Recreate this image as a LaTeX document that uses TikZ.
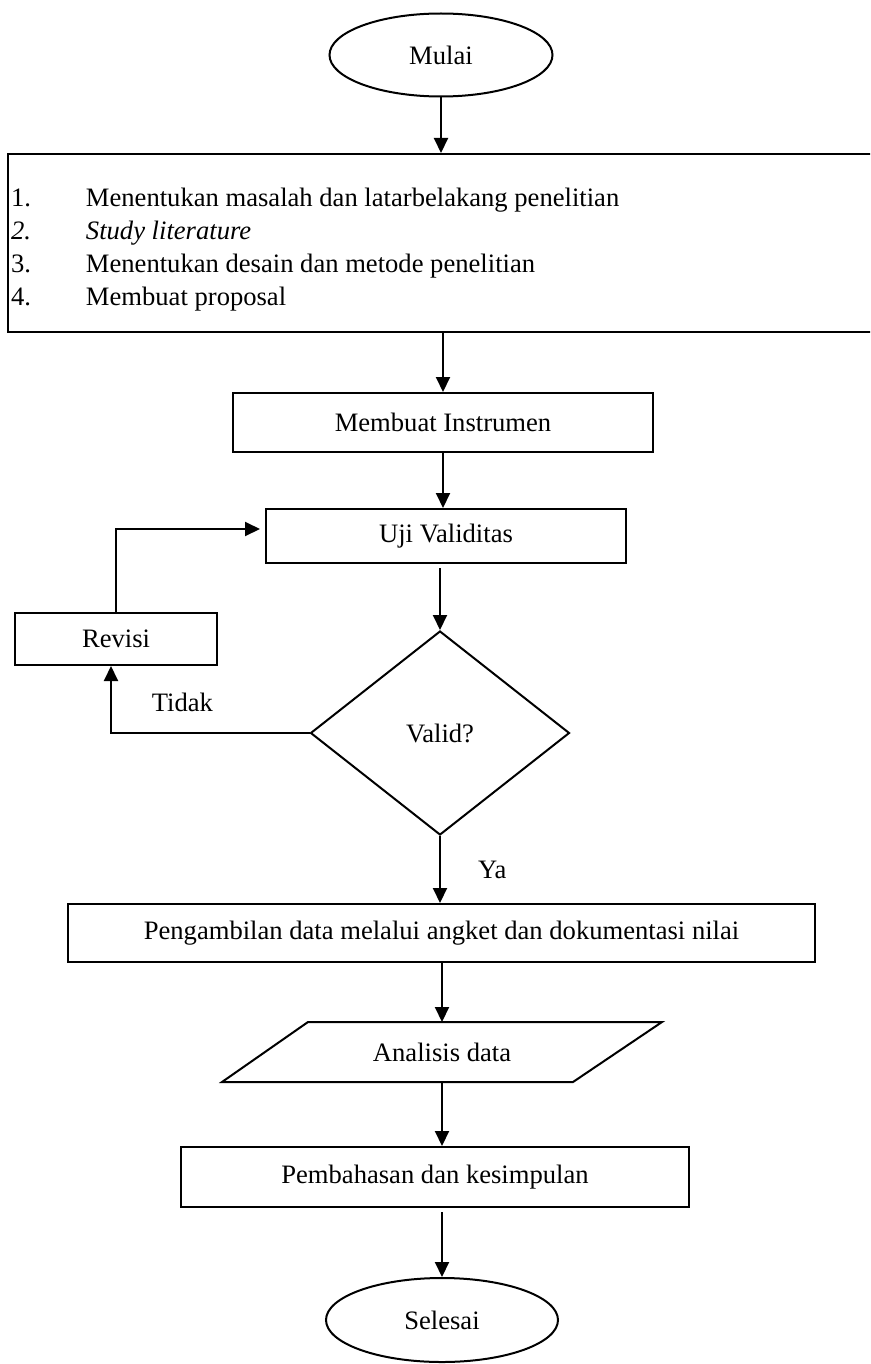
\documentclass[tikz,border=0pt]{standalone}
\usepackage{fontspec}
\setmainfont{Liberation Serif}
\usetikzlibrary{shapes.geometric,arrows.meta,positioning}

\begin{document}
\begin{tikzpicture}[x=1pt, y=1pt, line width=2pt,
    font=\fontsize{26.6}{33}\selectfont,
    >={Triangle[length=15pt,width=14pt]},
    proses/.style={draw, rectangle, inner sep=0pt},
    terminal/.style={draw, ellipse, inner sep=0pt},
    keputusan/.style={draw, diamond, inner sep=0pt},
    keterangan/.style={inner sep=0pt}]
    % Page frame
    \clip (0,0) rectangle (870,-1364);
    \fill[white] (0,0) rectangle (870,-1364);

    % Start
    \node[terminal, minimum width=223pt, minimum height=83pt] (mulai) at (441,-55) {Mulai};

    % Preparation steps
    \node[proses, minimum width=882pt, minimum height=178pt, inner xsep=3pt] (tahap) at (449,-243) {%
        \parbox{876pt}{\vspace*{14pt}%
        \makebox[75pt][l]{1.}Menentukan masalah dan latarbelakang penelitian\\
        \makebox[75pt][l]{\textit{2.}}\textit{Study literature}\\
        \makebox[75pt][l]{3.}Menentukan desain dan metode penelitian\\
        \makebox[75pt][l]{4.}Membuat proposal}};

    % Instrument and validation
    \node[proses, minimum width=420pt, minimum height=59pt] (instrumen) at (443,-422.5) {Membuat Instrumen};
    \node[proses, minimum width=360pt, minimum height=54pt] (uji) at (446,-536) {Uji Validitas};
    \node[keputusan, minimum width=259pt, minimum height=204pt] (valid) at (440,-733) {Valid?};
    \node[proses, minimum width=202pt, minimum height=52pt] (revisi) at (116,-639) {Revisi};

    % Data and conclusion
    \node[proses, minimum width=747pt, minimum height=58pt] (ambil) at (441.5,-933) {Pengambilan data melalui angket dan dokumentasi nilai};
    \node[inner sep=0pt, minimum width=438pt, minimum height=58pt] (analisis) at (442,-1052) {Analisis data};
    \draw ([xshift=86pt]analisis.north west) -- (analisis.north east)
        -- ([xshift=-89pt]analisis.south east) -- (analisis.south west) -- cycle;
    \node[proses, minimum width=508pt, minimum height=60pt] (bahas) at (435,-1177) {Pembahasan dan kesimpulan};

    % End
    \node[terminal, minimum width=232pt, minimum height=84pt] (selesai) at (442,-1320) {Selesai};

    % Arrows
    \draw[->] (mulai) -- (mulai |- tahap.north);
    \draw[->] (tahap.south -| instrumen.north) -- (instrumen.north);
    \draw[->] (instrumen) -- (instrumen |- uji.north);
    \draw[->, shorten <=4pt] (uji.south -| valid.north) -- (valid.north);
    \draw[->] (valid.south) -- node[midway, right=37pt, keterangan] {Ya} (valid.south |- ambil.north);
    \draw[->] (valid.west) -| node[pos=0.32, above=20pt, keterangan] {Tidak} ([xshift=-5pt]revisi.south);
    \draw[->, shorten >=5pt] (revisi.north) |- ([yshift=7pt]uji.west);
    \draw[->] (ambil.south -| analisis.north) -- (analisis.north);
    \draw[->] (analisis.south) -- (analisis.south |- bahas.north);
    \draw[->, shorten <=4pt] (bahas.south -| selesai.north) -- (selesai.north);
\end{tikzpicture}
\end{document}
